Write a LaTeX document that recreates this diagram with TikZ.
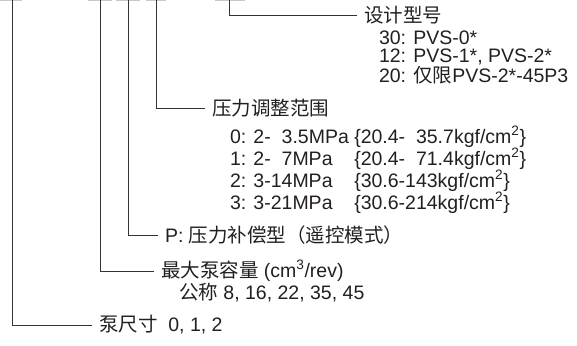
\documentclass[tikz,border=0pt]{standalone}
\usepackage{fontspec}
\setmainfont{Liberation Sans}
\newfontfamily\cjk{Noto Sans CJK SC}
\usetikzlibrary{positioning}
\definecolor{ink}{HTML}{231F20}
\definecolor{slot}{HTML}{C8C8C8}
\newcommand\sqr{\smash{\textsuperscript{2}}}

\begin{document}
\begin{tikzpicture}[
        x=1pt, y=-1pt,
        lead/.style={draw=black!80, line width=0.9pt},
        slotbar/.style={fill=slot, draw=none},
        head/.style={anchor=west, inner sep=0pt, outer sep=7pt, text=ink, font=\fontsize{19.5}{21.5}\selectfont},
        sub/.style={anchor=north west, inner sep=0pt, outer sep=0pt, text=ink, align=left},
    ]
    \useasboundingbox (0,0) rectangle (577,345);
    \foreach \a/\b in {0/22, 88/112, 116/140, 146/166, 215/245}
        \fill[slotbar] (\a,0) rectangle (\b,1.5);
    \coordinate (sizetop) at (12,0);
    \coordinate (voltop) at (100,0);
    \coordinate (comptop) at (128,0);
    \coordinate (rangetop) at (156,0);
    \coordinate (designtop) at (229,0);

    \node[head] (design) at (357,15) {\cjk 设计型号};
    \node[sub, below right=9pt and 22pt of design.base west, font=\fontsize{19.5}{17.8}\selectfont] (designlist)
        {30: PVS-0*\\ 12: PVS-1*, PVS-2*\\ 20: {\cjk 仅限}PVS-2*-45P3};

    \node[head] (range) at (205,108) {\cjk 压力调整范围};
    \node[sub, below right=13pt and 25pt of range.base west, font=\fontsize{19.5}{21.5}\selectfont] (rangelist)
        {\begin{tabular}{@{}l@{ }l@{}}
            0: 2-~~3.5MPa & \{20.4-~~35.7kgf/cm\sqr\}\\[0.5pt]
            1: 2-~~7MPa & \{20.4-~~71.4kgf/cm\sqr\}\\[0.5pt]
            2: 3-14MPa & \{30.6-143kgf/cm\sqr\}\\[0.5pt]
            3: 3-21MPa & \{30.6-214kgf/cm\sqr\}
        \end{tabular}};

    \node[head] (comp) at (158,235) {P: {\cjk 压力补偿型（遥控模式）}};

    \node[head] (volume) at (154,271) {{\cjk 最大泵容量} (cm\textsuperscript{3}/rev)};
    \node[sub, below right=6pt and 25pt of volume.base west, font=\fontsize{19.5}{21.5}\selectfont] (volumelist)
        {{\cjk 公称} 8, 16, 22, 35, 45};

    \node[head] (size) at (92,325) {{\cjk 泵尺寸}\ \ 0, 1, 2};

    \draw[lead] (designtop) |- (design);
    \draw[lead] (rangetop) |- (range);
    \draw[lead] (comptop) |- (comp);
    \draw[lead] (voltop) |- (volume);
    \draw[lead] (sizetop) |- (size);
\end{tikzpicture}
\end{document}
